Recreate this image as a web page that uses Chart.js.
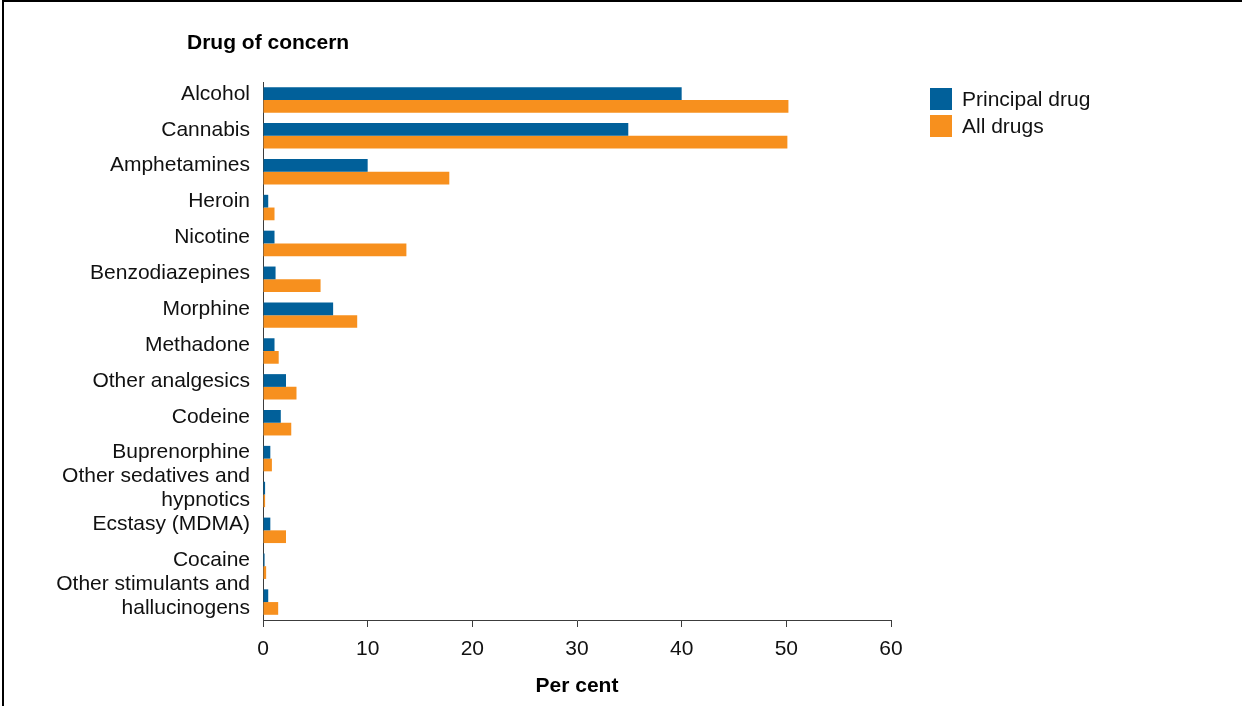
<!DOCTYPE html>
<html lang="en">
<head>
  <meta charset="UTF-8" />
  <title>Drug of concern</title>
  <script src="https://cdn.jsdelivr.net/npm/chart.js"></script>
  <style>
    html, body { margin: 0; padding: 0; background: #fff; }
    body { width: 1242px; height: 706px; position: relative; overflow: hidden; font-family: "Liberation Sans", Arial, sans-serif; }
    .frame { position: absolute; left: 2px; top: 0; width: 1240px; height: 706px; border-top: 2px solid #000; border-left: 2px solid #000; box-sizing: border-box; }
    #chart { position: absolute; left: 0; top: 0; }
    .heading { position: absolute; left: 187px; top: 29px; font-size: 21px; font-weight: bold; color: #000; line-height: 26px; }
    .legend { position: absolute; left: 930px; top: 85px; font-size: 21px; color: #111; }
    .legend div { height: 27px; display: flex; align-items: center; }
    .legend span.box { width: 22px; height: 22px; margin-right: 10px; display: inline-block; }
  </style>
</head>
<body>
  <div class="frame"></div>
  <canvas id="chart" width="1242" height="706"></canvas>
  <div class="heading">Drug of concern</div>
  <div class="legend" id="legend"></div>

  <script>
    // Data
    const drugs = [
      "Alcohol", "Cannabis", "Amphetamines", "Heroin", "Nicotine",
      "Benzodiazepines", "Morphine", "Methadone", "Other analgesics", "Codeine",
      "Buprenorphine", ["Other sedatives and", "hypnotics"], "Ecstasy (MDMA)", "Cocaine",
      ["Other stimulants and", "hallucinogens"]
    ];
    const principalDrug = [40.0, 34.9, 10.0, 0.5, 1.1, 1.2, 6.7, 1.1, 2.2, 1.7, 0.7, 0.2, 0.7, 0.15, 0.5];
    const allDrugs = [50.2, 50.1, 17.8, 1.1, 13.7, 5.5, 9.0, 1.5, 3.2, 2.7, 0.85, 0.2, 2.2, 0.3, 1.45];
    const xTicks = [0, 10, 20, 30, 40, 50, 60];

    const blue = "#01609a";
    const orange = "#f7901e";
    const axisColor = "#3c3c3c";
    const font = "'Liberation Sans', Arial, sans-serif";

    // Legend
    const legendItems = [["Principal drug", blue], ["All drugs", orange]];
    document.getElementById("legend").innerHTML = legendItems
      .map(([t, c]) => `<div><span class="box" style="background:${c}"></span>${t}</div>`)
      .join("");

    new Chart(document.getElementById("chart"), {
      type: "bar",
      data: {
        labels: drugs,
        datasets: [
          { label: "Principal drug", data: principalDrug, backgroundColor: blue },
          { label: "All drugs", data: allDrugs, backgroundColor: orange }
        ]
      },
      options: {
        indexAxis: "y",
        responsive: false,
        animation: false,
        layout: { padding: { top: 82, left: 0, right: 351, bottom: 0 } },
        datasets: { bar: { categoryPercentage: 0.71, barPercentage: 1.0 } },
        plugins: { legend: { display: false }, tooltip: { enabled: false } },
        scales: {
          x: {
            min: 0, max: 60,
            afterBuildTicks: s => { s.ticks = xTicks.map(v => ({ value: v })); },
            afterFit: s => { s.height = 86; },
            grid: { drawOnChartArea: false, drawTicks: true, tickLength: 7, color: axisColor },
            border: { color: axisColor, width: 1 },
            ticks: { color: "#111", padding: 10, font: { family: font, size: 21, lineHeight: 1.2 } },
            title: {
              display: true, text: "Per cent", color: "#000",
              font: { family: font, size: 21, weight: "bold", lineHeight: 1.2 },
              padding: { top: 0, bottom: 7 }
            }
          },
          y: {
            afterFit: s => { s.width = 263; },
            grid: { display: false, drawTicks: false },
            border: { color: axisColor, width: 1 },
            ticks: {
              color: "#111", padding: 13, labelOffset: -6, autoSkip: false,
              font: { family: font, size: 21, lineHeight: 1.143 }
            }
          }
        }
      }
    });
  </script>
</body>
</html>
